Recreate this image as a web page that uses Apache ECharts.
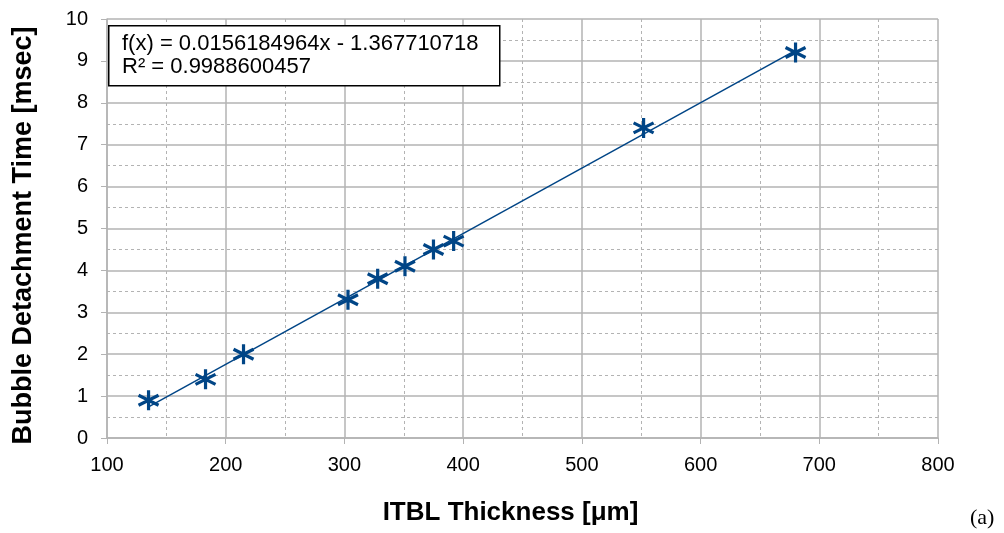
<!DOCTYPE html>
<html>
<head>
<meta charset="utf-8">
<script src="https://cdn.jsdelivr.net/npm/echarts@6/dist/echarts.min.js"></script>
<style>
html,body{margin:0;padding:0;background:#fff;}
#x1{width:1004px;height:533px;}
</style>
</head>
<body>
<div id="x1"></div>
<script>
// data
var thickness = [135, 183, 215, 303, 328, 351, 375, 392, 552, 680];
var detachTime = [0.9, 1.4, 2.0, 3.3, 3.8, 4.1, 4.5, 4.7, 7.4, 9.2];
var xTicks = [100, 200, 300, 400, 500, 600, 700, 800];
var yTicks = [0, 1, 2, 3, 4, 5, 6, 7, 8, 9, 10];
// trendline as stated on the chart
var slope = 0.0156184964, intercept = -1.367710718;
var fitLabel = ['f(x) = 0.0156184964x - 1.367710718', 'R\u00b2 = 0.9988600457'];

var pts = [];
for (var i = 0; i < thickness.length; i++) pts.push([thickness[i], detachTime[i]]);
var x0 = thickness[0], x1 = thickness[thickness.length - 1];
var fit = [[x0, slope * x0 + intercept], [x1, slope * x1 + intercept]];

var font = 'Liberation Sans, Arial, sans-serif';
var blue = '#004586';
var star = 'path://M0,-10L0,10M-8.66,-5L8.66,5M-8.66,5L8.66,-5';

var myChart = echarts.init(document.getElementById('x1'));
var option1 = {
	animation: false,
	grid: {left: 107, right: 66, top: 19, bottom: 95},
	xAxis: {
		type: 'value', min: xTicks[0], max: xTicks[xTicks.length - 1], interval: 100,
		name: 'ITBL Thickness [μm]', nameLocation: 'middle', nameGap: 62,
		nameTextStyle: {fontFamily: font, fontWeight: 'bold', fontSize: 26, color: '#000', padding: [0, 24, 0, 0]},
		axisLine: {lineStyle: {color: '#b3b3b3', width: 1.5}},
		axisTick: {show: true, length: 6, lineStyle: {color: '#b3b3b3'}},
		axisLabel: {fontFamily: font, fontSize: 20, color: '#000', margin: 17},
		splitLine: {lineStyle: {color: '#b3b3b3', width: 1.5}},
		minorTick: {show: false, splitNumber: 2},
		minorSplitLine: {show: true, lineStyle: {color: '#b3b3b3', type: [3, 3], width: 1}}
	},
	yAxis: {
		type: 'value', min: yTicks[0], max: yTicks[yTicks.length - 1], interval: 1,
		name: 'Bubble Detachment Time [msec]', nameLocation: 'middle', nameGap: 70,
		nameTextStyle: {fontFamily: font, fontWeight: 'bold', fontSize: 27, color: '#000', padding: [0, 14, 0, 0]},
		axisLine: {show: true, lineStyle: {color: '#b3b3b3', width: 1.5}},
		axisTick: {show: true, length: 6, lineStyle: {color: '#b3b3b3'}},
		axisLabel: {fontFamily: font, fontSize: 20, color: '#000', margin: 19},
		splitLine: {lineStyle: {color: '#b3b3b3', width: 1.5}},
		minorTick: {show: false, splitNumber: 2},
		minorSplitLine: {show: true, lineStyle: {color: '#b3b3b3', type: [3, 3], width: 1}}
	},
	series: [
		{
			type: 'line', data: fit, symbol: 'none', silent: true,
			lineStyle: {color: blue, width: 1.5}, z: 2
		},
		{
			type: 'scatter', data: pts, symbol: star, symbolSize: 20,
			itemStyle: {color: 'none', borderColor: blue, borderWidth: 3.2, opacity: 1}, z: 3
		}
	],
	graphic: [
		{
			type: 'rect', left: 108, top: 25, z: 10,
			shape: {width: 391, height: 60},
			style: {fill: '#fff', stroke: '#000', lineWidth: 1.5}
		},
		{
			type: 'text', left: 122, top: 32, z: 11,
			style: {text: fitLabel.join('\n'), font: '22px ' + font, fill: '#000', lineHeight: 23}
		},
		{
			type: 'text', left: 970, top: 507,
			style: {text: '(a)', font: '22px "Liberation Serif", serif', fill: '#000'}
		}
	]
};
myChart.setOption(option1);
</script>
</body>
</html>
